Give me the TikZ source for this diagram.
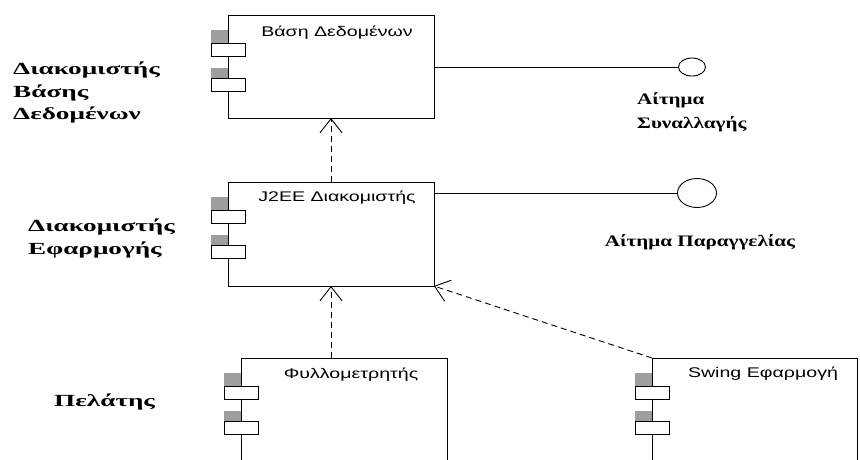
\documentclass[tikz,border=0pt]{standalone}
\usepackage{fontspec}
\usetikzlibrary{arrows.meta,shapes.geometric}
\newfontfamily\compfont[FakeStretch=1.4]{Liberation Sans}
\newfontfamily\tagfont[FakeStretch=1.6]{Liberation Serif}
\newfontfamily\ifacefont[FakeStretch=1.32]{Liberation Serif}

\begin{document}
\begin{tikzpicture}[x=1pt,y=-1pt]
\tikzstyle{comp}=[draw, fill=white, rectangle, minimum width=206pt, inner sep=0pt, outer sep=0pt, line width=1pt]
\tikzstyle{tab}=[draw, fill=white, rectangle, minimum width=34pt, minimum height=13pt, inner sep=0pt, outer sep=0pt, line width=0.9pt]
\tikzstyle{tabshade}=[fill=black!38, rectangle, minimum width=17pt, inner sep=0pt, outer sep=0pt]
\tikzstyle{compname}=[font=\compfont\fontsize{14}{16}\selectfont, inner sep=0pt]
\tikzstyle{tag}=[font=\tagfont\bfseries\fontsize{17}{22.5}\selectfont, align=left, inner sep=0pt]
\tikzstyle{ifacetag}=[font=\ifacefont\bfseries\fontsize{16}{24}\selectfont, align=left, inner sep=0pt]
\tikzstyle{iface}=[draw, ellipse, line width=0.9pt, inner sep=0pt, outer sep=0pt]
\tikzstyle{dep}=[dash pattern=on 6pt off 4pt, line width=0.9pt, -{Straight Barb[length=14pt,width=22pt]}]
\useasboundingbox (0,0) rectangle (860,459);
\clip (0,0) rectangle (860,459);

\node[tabshade, minimum height=13pt] (db shade1) at (219.5,36.5) {};
\node[tabshade, minimum height=10pt] (db shade2) at (219.5,73) {};
\node[comp, minimum height=103pt] (db) at (331,66.5) {};
\node[compname] (db name) at (337,33) {Βάση Δεδομένων};
\node[tab] (db tab1) at (228,49.5) {};
\node[tab] (db tab2) at (228,84.5) {};

\node[tabshade, minimum height=13pt] (j2ee shade1) at (219.5,203.5) {};
\node[tabshade, minimum height=10pt] (j2ee shade2) at (219.5,240) {};
\node[comp, minimum height=104pt] (j2ee) at (331,234) {};
\node[compname] (j2ee name) at (337,198) {J2EE Διακομιστής};
\node[tab] (j2ee tab1) at (228,216.5) {};
\node[tab] (j2ee tab2) at (228,251.5) {};

\node[tabshade, minimum height=13pt] (browser shade1) at (232.5,379.5) {};
\node[tabshade, minimum height=10pt] (browser shade2) at (232.5,416) {};
\node[comp, minimum height=124pt] (browser) at (344,420) {};
\node[compname] (browser name) at (351,375) {Φυλλομετρητής};
\node[tab] (browser tab1) at (241,392.5) {};
\node[tab] (browser tab2) at (241,427.5) {};

\node[tabshade, minimum height=13pt] (swing shade1) at (643.5,379.5) {};
\node[tabshade, minimum height=10pt] (swing shade2) at (643.5,416) {};
\node[comp, minimum width=205pt, minimum height=124pt] (swing) at (754.5,420) {};
\node[compname] (swing name) at (763,374) {Swing Εφαρμογή};
\node[tab] (swing tab1) at (652,392.5) {};
\node[tab] (swing tab2) at (652,427.5) {};

\node[iface, minimum width=27pt, minimum height=18pt] (trans) at (692,67) {};
\node[iface, minimum width=39pt, minimum height=29pt] (order) at (697,193) {};

\node[tag, anchor=west] (db server) at (13,92.5) {Διακομιστής\\Βάσης\\Δεδομένων};
\node[tag, anchor=west] (app server) at (28,238.5) {Διακομιστής\\Εφαρμογής};
\node[tag, anchor=west] (client) at (54,402) {Πελάτης};
\node[ifacetag, anchor=west] (trans name) at (637,112) {Αίτημα\\Συναλλαγής};
\node[ifacetag] (order name) at (700,242) {Αίτημα Παραγγελίας};

\draw[line width=0.9pt] (db.east |- trans.west) -- (trans.west);
\draw[line width=0.9pt] (j2ee.east |- order.west) -- (order.west);

\draw[dep] (j2ee.north) -- (db.south);
\draw[dep] (j2ee.south |- browser.north) -- (j2ee.south);
\draw[dep] (swing.north west) -- (j2ee.south east);
\end{tikzpicture}
\end{document}
